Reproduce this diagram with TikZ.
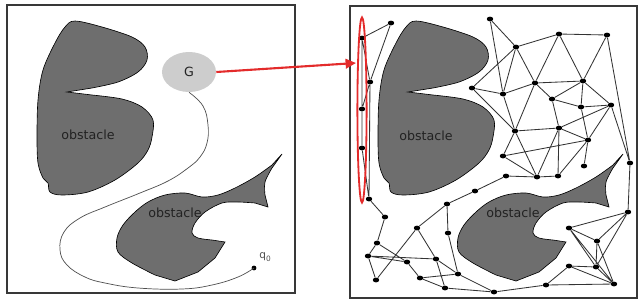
\documentclass[tikz,border=0pt]{standalone}
\usepackage{fontspec}
\setmainfont{DejaVu Sans}
\usepackage{xcolor}
\usetikzlibrary{arrows.meta,positioning,shapes.geometric}
\definecolor{obstaclegray}{HTML}{6E6E6E}
\definecolor{goalgray}{HTML}{CDCDCD}
\definecolor{ink}{HTML}{222222}
\definecolor{roadgray}{HTML}{333333}
\definecolor{markred}{HTML}{E32B2B}
\tikzset{
  panel/.style={
    draw=ink!90,
    line width=1pt
  },
  obstacle/.style={
    fill=obstaclegray,
    draw=black,
    line width=0.45pt
  },
  obstacle label/.style={
    font=\fontsize{9}{10}\selectfont,
    text=ink
  },
  goal/.style={
    ellipse,
    fill=goalgray,
    minimum width=1.35cm,
    minimum height=1.0cm,
    inner sep=0pt,
    font=\fontsize{9}{10}\selectfont,
    text=ink
  },
  route/.style={
    draw=ink!80,
    line width=0.5pt
  },
  startdot/.style={
    circle,
    fill=black,
    minimum size=0.12cm,
    inner sep=0pt
  },
  milestone/.style={
    ellipse,
    fill=black,
    minimum width=0.16cm,
    minimum height=0.12cm,
    inner sep=0pt
  },
  roadmap/.style={
    draw=roadgray,
    line width=0.6pt
  },
  ring/.style={
    ellipse,
    draw=markred,
    line width=1.3pt,
    minimum width=0.23cm,
    minimum height=4.63cm,
    inner sep=0pt
  },
  pointer/.style={
    -{Triangle[length=2.6mm,width=2.4mm]},
    draw=markred,
    line width=1.5pt
  },
  upper obstacle/.pic={
    \draw[obstacle] (67,92) -- plot[smooth, tension=0.55] coordinates {
      (92,95) (122,99) (142,107) (153,120) (152,137) (148,150) (138,163)
      (115,180) (88,192) (62,195) (50,192) (48,183) (43,178) (38,163)
      (37,137) (38,100) (43,70) (55,43) (65,27) (75,21) (102,27) (132,37)
      (145,47) (147,60) (138,72) (118,82) (92,88)} -- cycle;
  },
  fish obstacle/.pic={
    \draw[obstacle] (282,154)
      -- plot[smooth, tension=0.55] coordinates {(272,168) (265,182) (265,195)}
      -- (268,207)
      -- plot[smooth, tension=0.55] coordinates {(255,203) (238,202) (222,203)
        (205,212) (195,223) (192,233) (198,238) (212,240)}
      -- (225,242)
      -- plot[smooth, tension=0.55] coordinates {(215,258) (198,272)}
      -- (175,281)
      -- plot[smooth, tension=0.55] coordinates {(155,275) (132,263) (118,252)
        (117,238) (123,225) (135,212) (148,202) (165,195) (185,193) (202,197)
        (218,195) (235,188) (255,177) (272,165)}
      -- cycle;
  }
}

\begin{document}
\begin{tikzpicture}[x=0.025cm, y=-0.025cm]
\useasboundingbox (0,0) rectangle (640,305);

% Left panel: a single path from q0 to the goal.
\draw[panel] (7,5) rectangle (295,293);
\pic at (0,0) {upper obstacle};
\pic at (0,0) {fish obstacle};
\node[obstacle label] (obsA) at (88,135) {obstacle};
\node[obstacle label] (obsB) at (175,213) {obstacle};

\node[goal] (G) at (189,72) {G};
\node[startdot] (q0) at (254,268) {};
\node[font=\fontsize{7.5}{8}\selectfont, text=ink!80, above right=0pt and -1pt of q0] (q0label) {q\textsubscript{0}};

\draw[route] plot[smooth, tension=0.7] coordinates {
  (G.south) (203,106) (208,125) (207,143) (200,157) (188,168) (168,181)
  (140,193) (105,207) (80,218) (64,232) (60,250) (67,265) (85,277)
  (105,283) (138,288) (182,289) (212,285) (238,277) (q0)};

% Right panel: sampled roadmap.
\draw[panel] (350,6) rectangle (637,298);
\pic at (341,0) {upper obstacle};
\pic at (341,0) {fish obstacle};
\node[obstacle label] (obsC) at (426,136) {obstacle};
\node[obstacle label] (obsD) at (513,213) {obstacle};

% Roadmap samples.
\node[milestone] (s1) at (391,23) {};
\node[milestone] (s2) at (362,38) {};
\node[milestone] (s3) at (370,82) {};
\node[milestone] (s4) at (362,109) {};
\node[milestone] (s5) at (362,148) {};
\node[milestone] (s6) at (369,199) {};
\node[milestone] (s7) at (385,217) {};
\node[milestone] (s8) at (377,243) {};
\node[milestone] (s9) at (368,256) {};
\node[milestone] (s10) at (376,280) {};
\node[milestone] (s11) at (417,228) {};
\node[milestone] (s12) at (407,262) {};
\node[milestone] (s13) at (420,278) {};
\node[milestone] (s14) at (436,259) {};
\node[milestone] (s15) at (445,288) {};
\node[milestone] (s16) at (458,274) {};
\node[milestone] (s17) at (447,204) {};
\node[milestone] (s18) at (448,233) {};
\node[milestone] (s19) at (475,191) {};
\node[milestone] (s20) at (494,292) {};
\node[milestone] (s21) at (506,176) {};
\node[milestone] (s22) at (503,156) {};
\node[milestone] (s23) at (472,88) {};
\node[milestone] (s24) at (490,19) {};
\node[milestone] (s25) at (516,47) {};
\node[milestone] (s26) at (503,94) {};
\node[milestone] (s27) at (515,131) {};
\node[milestone] (s28) at (535,83) {};
\node[milestone] (s29) at (537,177) {};
\node[milestone] (s30) at (552,99) {};
\node[milestone] (s31) at (559,34) {};
\node[milestone] (s32) at (559,128) {};
\node[milestone] (s33) at (558,176) {};
\node[milestone] (s34) at (583,81) {};
\node[milestone] (s35) at (581,107) {};
\node[milestone] (s36) at (588,140) {};
\node[milestone] (s37) at (584,166) {};
\node[milestone] (s38) at (607,35) {};
\node[milestone] (s39) at (611,105) {};
\node[milestone] (s40) at (630,163) {};
\node[milestone] (s41) at (628,212) {};
\node[milestone] (s42) at (569,228) {};
\node[milestone] (s43) at (597,241) {};
\node[milestone] (s44) at (569,266) {};
\node[milestone] (s45) at (596,267) {};
\node[milestone] (s46) at (614,284) {};
\node[milestone] (s47) at (546,285) {};

% Roadmap edges, left strip and lower left.
\draw[roadmap] (s1) -- (s2) (s1) -- (s3) (s2) -- (s3) (s2) -- (s4)
  (s3) -- (s4) (s3) -- (s6) (s4) -- (s5) (s5) -- (s6);
\draw[roadmap] (s6) -- (s7) (s7) -- (s8) (s8) -- (s9) (s9) -- (s10)
  (s8) -- (s12) (s9) -- (s12) (s9) -- (s14) (s10) -- (s11) (s11) -- (s14)
  (s11) -- (s17) (s12) -- (s13) (s13) -- (s15) (s13) -- (s16)
  (s14) -- (s15) (s14) -- (s16) (s15) -- (s20) (s16) -- (s20)
  (s17) -- (s18) (s18) -- (s16) (s17) -- (s19) (s19) -- (s21);

% Roadmap edges, upper right.
\draw[roadmap] (s24) -- (s25) (s24) -- (s26) (s25) -- (s31) (s31) -- (s38)
  (s25) -- (s23) (s25) -- (s26) (s25) -- (s28) (s31) -- (s28) (s31) -- (s34)
  (s38) -- (s34) (s38) -- (s40) (s28) -- (s34) (s26) -- (s28) (s28) -- (s30)
  (s28) -- (s27) (s26) -- (s27) (s23) -- (s26) (s23) -- (s27) (s34) -- (s30)
  (s34) -- (s35) (s34) -- (s39) (s30) -- (s32) (s30) -- (s35) (s35) -- (s39)
  (s39) -- (s32) (s39) -- (s36) (s35) -- (s36) (s27) -- (s32) (s27) -- (s22)
  (s27) -- (s29) (s22) -- (s36) (s22) -- (s29) (s32) -- (s29) (s32) -- (s33)
  (s32) -- (s36) (s36) -- (s33) (s36) -- (s37) (s21) -- (s29) (s29) -- (s33)
  (s39) -- (s40) (s40) -- (s41);

% Roadmap edges, lower right.
\draw[roadmap] (s41) -- (s42) (s41) -- (s43) (s41) -- (s45) (s42) -- (s43)
  (s42) -- (s45) (s42) -- (s46) (s43) -- (s45) (s43) -- (s46) (s44) -- (s45)
  (s44) -- (s46) (s44) -- (s47) (s45) -- (s46) (s47) -- (s46) (s47) -- (s20);

% Highlight and pointer.
\node[ring] (strip) at (362,110) {};
\coordinate (hit) at (356,63);
\draw[pointer] (G.east) -- (hit);

\end{tikzpicture}
\end{document}
